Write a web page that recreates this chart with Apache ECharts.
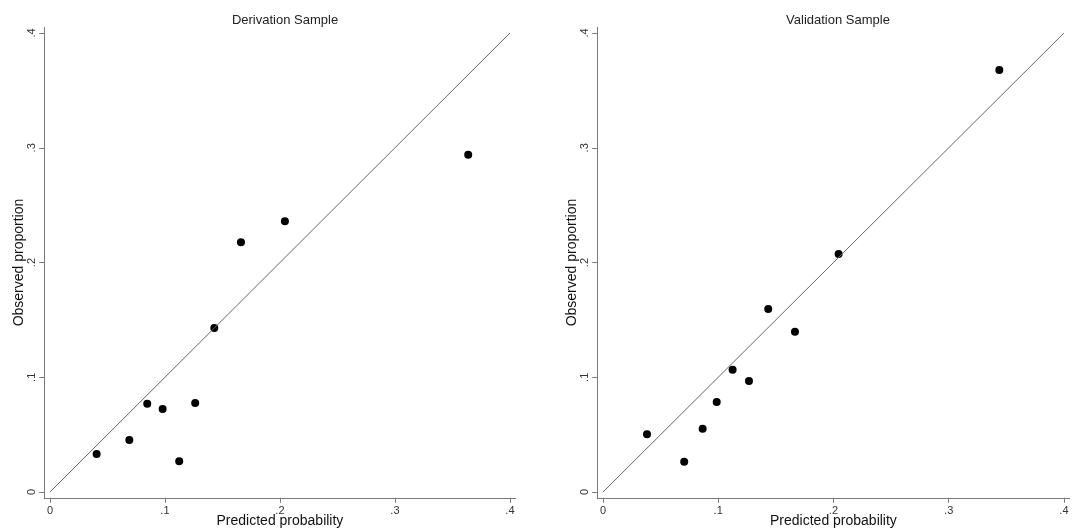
<!DOCTYPE html>
<html>
<head>
<meta charset="utf-8">
<script src="https://cdn.jsdelivr.net/npm/echarts@6/dist/echarts.min.js"></script>
<style>
html,body{margin:0;padding:0;background:#fff;}
#main{width:1078px;height:529px;}
</style>
</head>
<body>
<div id="main"></div>
<script>
// 数据
var titles = ['Derivation Sample', 'Validation Sample'];
var tickValues = [0, 0.1, 0.2, 0.3, 0.4];
var refLine = [0, 0.4];
var derivPred = [0.0406, 0.069, 0.0846, 0.098, 0.1124, 0.1263, 0.1429, 0.1661, 0.2043, 0.3637];
var derivObs  = [0.0331, 0.0453, 0.077, 0.0723, 0.0268, 0.0776, 0.1429, 0.2176, 0.2359, 0.2939];
var validPred = [0.0382, 0.0705, 0.0865, 0.0987, 0.1125, 0.1267, 0.1434, 0.1666, 0.2045, 0.3439];
var validObs  = [0.0503, 0.0264, 0.0552, 0.0784, 0.1066, 0.0967, 0.1595, 0.1397, 0.2074, 0.3678];

var myChart = echarts.init(document.getElementById('main'));

function pairs(xs, ys){
  var out = [];
  for (var i = 0; i < xs.length; i++) out.push([xs[i], ys[i]]);
  return out;
}
function fmt(v){
  if (v === 0) return '0';
  return String(+v.toFixed(1)).replace(/^0/, '');
}

var axisLine = {show: true, onZero: false, lineStyle: {color: '#7a7a7a', width: 1}};
var axisTick = {show: true, length: 5, customValues: tickValues, lineStyle: {color: '#7a7a7a'}};

function xAx(idx){
  return {
    type: 'value', gridIndex: idx, min: -0.005, max: 0.405,
    name: 'Predicted probability', nameLocation: 'middle', nameGap: 16, nameMoveOverlap: false,
    nameTextStyle: {fontFamily: 'Liberation Sans', fontSize: 14, color: '#111'},
    axisLine: axisLine, axisTick: axisTick, splitLine: {show: false},
    axisLabel: {customValues: tickValues, formatter: fmt, margin: 8,
      fontFamily: 'Liberation Sans', fontSize: 11, color: '#333'}
  };
}
function yAx(idx){
  return {
    type: 'value', gridIndex: idx, min: -0.005, max: 0.405,
    name: 'Observed proportion', nameLocation: 'middle', nameGap: 18, nameMoveOverlap: false,
    nameTextStyle: {fontFamily: 'Liberation Sans', fontSize: 14, color: '#111'},
    axisLine: axisLine, axisTick: axisTick, splitLine: {show: false},
    axisLabel: {customValues: tickValues, formatter: fmt, rotate: 90, margin: 7,
      fontFamily: 'Liberation Sans', fontSize: 11, color: '#333'}
  };
}

var option = {
  backgroundColor: '#fff',
  animation: false,
  title: [
    {text: titles[0], left: 280, top: 9, textAlign: 'center',
     textStyle: {fontFamily: 'Liberation Sans', fontSize: 13, fontWeight: 'normal', color: '#222'}},
    {text: titles[1], left: 833, top: 9, textAlign: 'center',
     textStyle: {fontFamily: 'Liberation Sans', fontSize: 13, fontWeight: 'normal', color: '#222'}}
  ],
  grid: [
    {left: 44.2, width: 471.5, top: 27.3, height: 470.5, outerBoundsMode: 'none', containLabel: false},
    {left: 597.2, width: 472.5, top: 27.3, height: 470.5, outerBoundsMode: 'none', containLabel: false}
  ],
  xAxis: [xAx(0), xAx(1)],
  yAxis: [yAx(0), yAx(1)],
  series: [
    {type: 'line', xAxisIndex: 0, yAxisIndex: 0, data: pairs(refLine, refLine), symbol: 'none',
     lineStyle: {color: '#666', width: 1}, silent: true},
    {type: 'scatter', xAxisIndex: 0, yAxisIndex: 0, data: pairs(derivPred, derivObs),
     symbolSize: 8, itemStyle: {color: '#000', opacity: 1}},
    {type: 'line', xAxisIndex: 1, yAxisIndex: 1, data: pairs(refLine, refLine), symbol: 'none',
     lineStyle: {color: '#666', width: 1}, silent: true},
    {type: 'scatter', xAxisIndex: 1, yAxisIndex: 1, data: pairs(validPred, validObs),
     symbolSize: 8, itemStyle: {color: '#000', opacity: 1}}
  ]
};
myChart.setOption(option);
</script>
</body>
</html>
